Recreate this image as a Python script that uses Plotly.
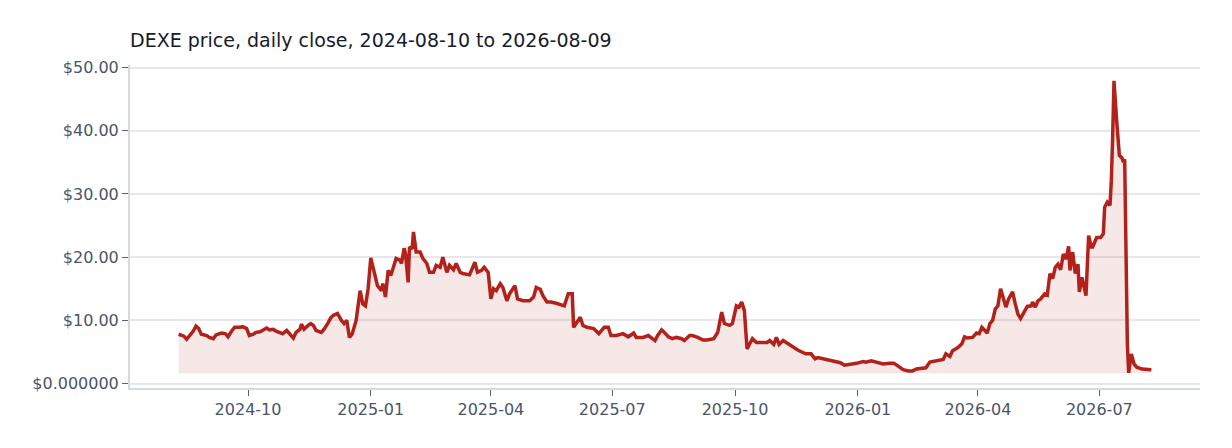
import pandas as pd
import plotly.graph_objects as go

start_date = "2024-08-10"

# day offsets from start_date and the daily close
day = [
    0, 2, 4, 6, 8, 11, 13, 15, 17, 21, 23, 26, 28, 32, 35, 37, 40, 42, 46, 48,
    51, 53, 56, 58, 61, 63, 66, 68, 71, 73, 76, 78, 81, 83, 86, 88, 91, 92, 94, 97,
    99, 101, 103, 107, 109, 112, 114, 116, 119, 122, 124, 126, 127, 128, 130, 133, 136, 138, 140, 142,
    144, 147, 149, 152, 153, 155, 157, 159, 162, 163, 166, 167, 169, 170, 172, 173, 175, 176, 178, 181,
    183, 186, 188, 191, 193, 196, 198, 201, 203, 206, 208, 211, 213, 218, 222, 224, 227, 229, 232, 234,
    236, 238, 241, 243, 246, 248, 252, 254, 258, 263, 266, 268, 271, 273, 276, 279, 283, 286, 289, 292,
    295, 296, 298, 301, 303, 306, 311, 315, 317, 319, 322, 324, 328, 333, 337, 341, 343, 348, 352, 354,
    357, 359, 362, 364, 367, 370, 373, 377, 379, 383, 385, 389, 393, 396, 401, 404, 407, 409, 413, 415,
    418, 420, 422, 424, 426, 428, 430, 433, 437, 441, 443, 446, 448, 450, 453, 457, 460, 464, 467, 470,
    474, 477, 479, 483, 488, 492, 496, 499, 503, 508, 513, 515, 519, 523, 528, 533, 536, 539, 543, 547,
    550, 553, 556, 560, 563, 566, 570, 573, 575, 578, 580, 584, 587, 589, 591, 595, 598, 600, 602, 604,
    606, 608, 610, 612, 614, 616, 618, 620, 622, 625, 627, 629, 631, 634, 636, 639, 640, 642, 644, 646,
    649, 651, 653, 655, 657, 659, 661, 663, 665, 667, 668, 670, 672, 674, 675, 677, 680, 682, 684, 685,
    688, 691, 693, 694, 696, 698, 699, 700, 701, 703, 704, 705, 707, 708, 709, 711, 712, 714, 716, 718,
    722, 726, 729,
]
close = [
    7.8, 7.6, 7.5, 7.0, 7.5, 8.3, 9.1, 8.7, 7.8, 7.6, 7.3, 7.1, 7.7, 8.0, 7.9, 7.4, 8.4, 8.9, 8.9, 9.0,
    8.7, 7.6, 7.8, 8.1, 8.2, 8.5, 8.8, 8.5, 8.6, 8.3, 8.1, 7.9, 8.4, 7.9, 7.2, 8.1, 8.6, 9.4, 8.6, 9.2,
    9.5, 9.2, 8.4, 8.1, 8.6, 9.6, 10.4, 10.8, 11.1, 10.0, 9.5, 10.0, 8.4, 7.3, 7.8, 10.0, 14.7, 12.6, 12.3, 15.0,
    19.9, 17.4, 15.5, 14.7, 15.8, 13.7, 17.9, 17.1, 19.0, 19.8, 19.5, 19.0, 21.4, 20.6, 16.0, 21.6, 21.3, 24.0, 20.8, 20.8,
    19.8, 19.0, 17.6, 17.6, 18.7, 18.4, 20.0, 17.6, 18.7, 18.0, 19.0, 17.6, 17.4, 17.2, 19.2, 17.6, 17.9, 18.4, 17.6, 13.4,
    15.0, 14.7, 15.8, 15.2, 13.1, 14.2, 15.5, 13.4, 13.1, 13.1, 13.7, 15.2, 14.9, 13.9, 12.9, 12.9, 12.7, 12.5, 12.3, 14.2,
    14.2, 8.9, 9.5, 10.5, 9.2, 8.9, 8.7, 7.9, 8.4, 8.9, 8.9, 7.6, 7.6, 7.9, 7.4, 8.0, 7.3, 7.3, 7.6, 7.3,
    6.8, 7.6, 8.5, 8.1, 7.4, 7.1, 7.3, 7.1, 6.8, 7.6, 7.6, 7.3, 6.9, 6.9, 7.1, 8.1, 11.3, 9.5, 9.2, 9.5,
    12.3, 12.1, 12.9, 11.5, 5.5, 6.3, 7.1, 6.5, 6.5, 6.5, 6.8, 6.2, 7.3, 6.2, 6.8, 6.2, 5.8, 5.3, 5.0, 4.7,
    4.7, 3.9, 4.1, 3.9, 3.6, 3.4, 3.3, 2.9, 3.0, 3.2, 3.5, 3.4, 3.6, 3.4, 3.1, 3.2, 3.2, 2.8, 2.2, 2.0,
    2.0, 2.3, 2.4, 2.5, 3.4, 3.5, 3.6, 3.8, 4.7, 4.3, 5.2, 5.7, 6.3, 7.4, 7.2, 7.3, 8.0, 7.9, 8.9, 8.5,
    8.0, 9.5, 10.0, 11.8, 12.3, 15.0, 13.4, 12.1, 13.4, 14.5, 12.6, 11.0, 10.3, 11.3, 12.2, 12.3, 12.9, 12.1, 13.1, 13.4,
    14.2, 14.0, 17.4, 16.6, 18.4, 18.9, 18.0, 20.5, 19.7, 21.7, 17.9, 20.8, 17.4, 18.9, 14.5, 16.8, 13.9, 23.4, 21.6, 21.6,
    23.1, 23.1, 23.7, 27.9, 28.7, 28.2, 32.1, 39.0, 47.9, 41.6, 39.5, 36.1, 35.7, 35.0, 35.5, 6.3, 1.7, 4.7, 3.1, 2.6,
    2.3, 2.2, 2.2,
]

y_tickvals = [0, 10, 20, 30, 40, 50]
y_ticktext = ["$0.000000", "$10.00", "$20.00", "$30.00", "$40.00", "$50.00"]

dates = pd.Timestamp(start_date) + pd.to_timedelta(day, unit="D")
floor = min(close)

# 5% padding either side of the data span
span = dates[-1] - dates[0]
x_range = [dates[0] - span * 0.05, dates[-1] + span * 0.05]

fig = go.Figure()

# baseline the area is filled down to
fig.add_trace(go.Scatter(
    x=dates, y=[floor] * len(dates),
    mode="lines",
    line=dict(color="rgba(178,34,34,0.08)", width=1),
    hoverinfo="skip",
    showlegend=False,
))

fig.add_trace(go.Scatter(
    x=dates, y=close,
    mode="lines",
    name="DEXE",
    line=dict(color="#b2221b", width=3.5),
    fill="tonexty",
    fillcolor="rgba(178,34,34,0.1)",
    showlegend=False,
))

# page body has an 8px margin, so the figure sits at (8, 8)
fig.update_layout(
    width=1216,
    height=432,
    paper_bgcolor="white",
    plot_bgcolor="white",
    font=dict(family="DejaVu Sans", size=16, color="#4a5568"),
    margin=dict(l=122, r=24, t=57, b=52),
    title=dict(
        text="DEXE price, daily close, 2024-08-10 to 2026-08-09",
        font=dict(family="DejaVu Sans", size=19, color="#161c2b"),
        x=122 / 1216, xanchor="left", xref="container",
        y=1 - 32 / 432, yanchor="middle", yref="container",
    ),
    xaxis=dict(
        range=x_range,
        tickformat="%Y-%m",
        dtick="M3",
        tick0="2024-01-01",
        showgrid=False,
        showline=True,
        linecolor="#d5d9e0",
        linewidth=2,
        ticks="outside",
        ticklen=6,
        tickcolor="#5a6272",
        zeroline=False,
    ),
    yaxis=dict(
        range=[-0.7, 50.4],
        tickvals=y_tickvals,
        ticktext=y_ticktext,
        showgrid=True,
        gridcolor="#e7e8ee",
        gridwidth=1.5,
        showline=True,
        linecolor="#d5d9e0",
        linewidth=2,
        ticks="outside",
        ticklen=6,
        tickcolor="#5a6272",
        zeroline=False,
    ),
)

fig.write_html("out.html")
